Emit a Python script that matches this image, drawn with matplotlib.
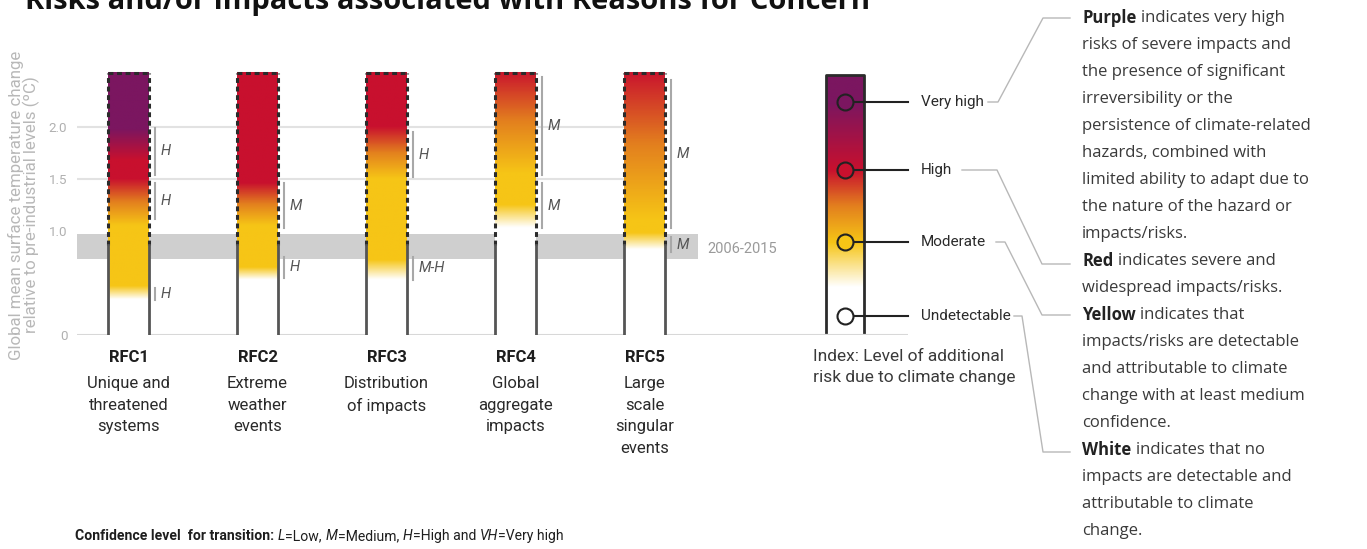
import matplotlib
matplotlib.use("Agg")
import matplotlib.pyplot as plt
import numpy as np
from matplotlib.colors import LinearSegmentedColormap
from matplotlib.lines import Line2D
from matplotlib import font_manager as fm

# --- data ---
rfc_titles = ["RFC1", "RFC2", "RFC3", "RFC4", "RFC5"]
rfc_desc = ["Unique and\nthreatened\nsystems", "Extreme\nweather\nevents",
            "Distribution\nof impacts", "Global\naggregate\nimpacts",
            "Large\nscale\nsingular\nevents"]
# temperature breakpoints (degC) and risk level at each (0 white, 1 yellow, 2 red, 3 purple)
rfc_temps = [[0, 0.34, 0.47, 1.05, 1.5, 1.68, 1.98, 2.55],
             [0, 0.53, 0.65, 1.05, 1.46, 2.55],
             [0, 0.53, 0.72, 1.5, 2.0, 2.55],
             [0, 1.03, 1.25, 1.55, 2.55],
             [0, 0.82, 0.98, 1.1, 2.55]]
rfc_levels = [[0, 0, 1, 1, 2, 2, 3, 3],
              [0, 0, 1, 1, 2, 2],
              [0, 0, 1, 1, 2, 2],
              [0, 0, 1, 1, 2],
              [0, 0, 1, 1, 2]]
# confidence of transitions: (low, high, label)
conf = [[(1.54, 1.99, "H"), (1.12, 1.46, "H"), (0.34, 0.45, "H")],
        [(1.03, 1.46, "M"), (0.55, 0.75, "H")],
        [(1.52, 1.95, "H"), (0.53, 0.75, "M-H")],
        [(1.54, 2.48, "M"), (1.03, 1.46, "M")],
        [(1.03, 2.45, "M"), (0.80, 0.94, "M")]]
bar_top = 2.52
present = 0.87
band_lo, band_hi = 0.73, 0.97
yticks = [0, 1.0, 1.5, 2.0]
ytick_labels = ["0", "1.0", "1.5", "2.0"]
grid_levels = [1.5, 2.0]

index_labels = ["Very high", "High", "Moderate", "Undetectable"]
index_circle_y = [2.24, 1.59, 0.89, 0.18]
index_circle_lvl = [3, 2, 1, 0]
index_temps = [0.03, 0.46, 0.89, 1.59, 2.24, 2.5]
index_levels = [0, 0, 1, 2, 3, 3]

right_lines = [
    ("Purple", "indicates very high"),
    ("", "risks of severe impacts and"),
    ("", "the presence of significant"),
    ("", "irreversibility or the"),
    ("", "persistence of climate-related"),
    ("", "hazards, combined with"),
    ("", "limited ability to adapt due to"),
    ("", "the nature of the hazard or"),
    ("", "impacts/risks."),
    ("Red", "indicates severe and"),
    ("", "widespread impacts/risks."),
    ("Yellow", "indicates that"),
    ("", "impacts/risks are detectable"),
    ("", "and attributable to climate"),
    ("", "change with at least medium"),
    ("", "confidence."),
    ("White", "indicates that no"),
    ("", "impacts are detectable and"),
    ("", "attributable to climate"),
    ("", "change."),
]
# (text, weight, style, space before)
foot_parts = [("Confidence level  for transition:", "bold", "normal", False),
              ("L", "normal", "italic", True), ("=Low,", "normal", "normal", False),
              ("M", "normal", "italic", True), ("=Medium,", "normal", "normal", False),
              ("H", "normal", "italic", True), ("=High and", "normal", "normal", False),
              ("VH", "normal", "italic", True), ("=Very high", "normal", "normal", False)]

WHITE = "#ffffff"
YELLOW = "#f6c516"
ORANGE = "#e3801e"
RED = "#c8102e"
PURPLE = "#7b1660"
cmap = LinearSegmentedColormap.from_list(
    "rfc", [(0, WHITE), (1 / 3, YELLOW), (1.5 / 3, ORANGE), (2 / 3, RED), (1, PURPLE)])

names = {f.name for f in fm.fontManager.ttflist}
if "Liberation Sans Narrow" in names:
    COND, k, lpf = "Liberation Sans Narrow", 1.0, 0.925
else:
    COND, k, lpf = "Roboto", 0.88, 0.853

W, H = 1367, 549
fig = plt.figure(figsize=(W / 100, H / 100), dpi=100)
fig.patch.set_facecolor("white")

# axes: x unit = 129 px, y unit = 104 px, 0 at pixel row 335
x0 = -0.4
x1 = x0 + 943 / 129
ax = fig.add_axes([77 / W, (H - 335) / H, 943 / W, 2.6 * 104 / H])
ax.set_facecolor("none")

xpos = np.arange(len(rfc_titles))
bw = 0.315


def grad_img(temps, levels, top, bottom=0.0):
    yy = np.linspace(bottom, top, 400)
    lv = np.interp(yy, temps, levels) / 3
    return cmap(lv)[:, None, :]


def pitch_ls(fs_pt, px):
    # linespacing giving a line pitch of px pixels
    return px / (lpf * fs_pt * 100 / 72)


# grid, band, baseline
ax.hlines(grid_levels, x0, xpos[-1], color="#e2e2e2", lw=1.5, zorder=1)
ax.fill_between([x0, 4.415], band_lo, band_hi, color="#cfcfcf", lw=0, zorder=1.5)
ax.text(4.49, (band_lo + band_hi) / 2 - 0.02, "2006-2015", color="#9a9a9a",
        fontsize=12 * k, family=COND, va="center", ha="left")
ax.hlines(0, x0, 6.04, color="#d8d8d8", lw=1.5, zorder=1)

fs_rfc = 13.6 * k
for i, x in enumerate(xpos):
    img = grad_img(rfc_temps[i], rfc_levels[i], bar_top)
    ax.imshow(img, extent=[x - bw / 2, x + bw / 2, 0, bar_top], origin="lower",
              aspect="auto", interpolation="bilinear", zorder=2)
    # dashed outline above present-day warming, solid sides below
    for sx in (x - bw / 2, x + bw / 2):
        ax.plot([sx, sx], [present, bar_top], color="#2b2b2b", lw=2.2,
                ls=(0, (1.6, 1.2)), zorder=3, solid_capstyle="butt")
        ax.plot([sx, sx], [0, present], color="#555555", lw=2, zorder=3)
    ax.plot([x - bw / 2, x + bw / 2], [bar_top, bar_top], color="#2b2b2b", lw=2.2,
            ls=(0, (1.6, 1.2)), zorder=3)
    # confidence markers
    for lo, hi, lab in conf[i]:
        mx = x + bw / 2 + 0.05
        ax.plot([mx, mx], [lo, hi], color="#a8a8a8", lw=1.5, zorder=3)
        ax.text(mx + 0.04, (lo + hi) / 2, lab, style="italic", color="#555555",
                fontsize=12 * k, family=COND, va="center", ha="left")
    ax.text(x, -0.215, rfc_titles[i], ha="center", va="center", fontsize=fs_rfc,
            weight="bold", family=COND, color="#1e1e1e")
    ax.text(x, -0.395, rfc_desc[i], ha="center", va="top", fontsize=fs_rfc,
            family=COND, color="#2a2a2a", linespacing=pitch_ls(fs_rfc, 22))

# index bar
ix = 5.554
iw = 0.295
itop = index_temps[-1]
ax.imshow(grad_img(index_temps, index_levels, itop, index_temps[0]),
          extent=[ix - iw / 2, ix + iw / 2, index_temps[0], itop], origin="lower",
          aspect="auto", interpolation="bilinear", zorder=2)
ax.plot([ix - iw / 2, ix - iw / 2, ix + iw / 2, ix + iw / 2],
        [index_temps[0], itop, itop, index_temps[0]], color="#2b2b2b", lw=2, zorder=3)
for cy, lvl, lab in zip(index_circle_y, index_circle_lvl, index_labels):
    ax.plot([ix, 6.04], [cy, cy], color="#222222", lw=1.5, zorder=3)
    ax.plot(ix, cy, "o", ms=11.5, mfc=cmap(lvl / 3), mec="#222222", mew=1.5, zorder=4)
    ax.text(6.14, cy, lab, fontsize=12.5 * k, family=COND, color="#2a2a2a",
            va="center", ha="left")
fs_idx = 14.2 * k
ax.text(5.306, -0.135, "Index: Level of additional\nrisk due to climate change",
        fontsize=fs_idx, family=COND, color="#3a3a3a", va="top", ha="left",
        linespacing=pitch_ls(fs_idx, 22))

ax.set_xlim(x0, x1)
ax.set_ylim(0, 2.6)
ax.set_xticks([])
ax.set_yticks(yticks)
ax.set_yticklabels(ytick_labels, family=COND, fontsize=11 * k)
ax.tick_params(axis="y", length=0, pad=7, colors="#b0b0b0")
for s in ax.spines.values():
    s.set_visible(False)

# y label
fs_yl = 13.8 * k
fig.text(24 / W, 1 - 205 / H,
         "Global mean surface temperature change\nrelative to pre-industrial levels (ºC)",
         rotation=90, ha="center", va="center", fontsize=fs_yl, family=COND,
         color="#b8b8b8", linespacing=pitch_ls(fs_yl, 14))

# title, cut at the top edge as in the source
fig.text(25 / W, 1 - 9 / H, "Risks and/or impacts associated with Reasons for Concern",
         fontsize=21, weight="bold", family="Open Sans", color="#111111", va="baseline")

# leader lines from index labels to the explanations
leaders = [[(988, 102), (998, 102), (1043, 18), (1070, 18)],
           [(962, 170), (997, 170), (1042, 264), (1070, 264)],
           [(996, 242), (1005, 242), (1042, 315), (1070, 315)],
           [(1014, 316), (1022, 316), (1043, 452), (1070, 452)]]
for pts in leaders:
    xs = [p[0] / W for p in pts]
    ys = [1 - p[1] / H for p in pts]
    fig.add_artist(Line2D(xs, ys, color="#b8b8b8", lw=1, transform=fig.transFigure))

# explanation text
fs_r = 12
for j, (bold, rest) in enumerate(right_lines):
    y = 1 - (18 + 27 * j) / H
    if bold:
        tb = fig.text(1082 / W, y, bold, fontsize=fs_r, family="Open Sans",
                      weight="bold", color="#222222", va="center", ha="left")
        ax.annotate(rest, xy=(1, 0.5), xycoords=tb, xytext=(0.27 * fs_r, 0),
                    textcoords="offset points", fontsize=fs_r, family="Open Sans",
                    color="#3a3a3a", va="center", ha="left")
    else:
        fig.text(1082 / W, y, rest, fontsize=fs_r, family="Open Sans",
                 color="#3a3a3a", va="center", ha="left")

# confidence footnote
fs_f = 11.5 * k
prev = None
for txt, wt, st, sp in foot_parts:
    if prev is None:
        prev = fig.text(75 / W, 1 - 536 / H, txt, fontsize=fs_f, family=COND,
                        weight=wt, style=st, color="#1e1e1e", va="center", ha="left")
    else:
        prev = ax.annotate(txt, xy=(1, 0.5), xycoords=prev,
                           xytext=(0.25 * fs_f if sp else 0.3, 0),
                           textcoords="offset points", fontsize=fs_f, family=COND,
                           weight=wt, style=st, color="#1e1e1e", va="center", ha="left")

fig.savefig("out.png", dpi=100)
